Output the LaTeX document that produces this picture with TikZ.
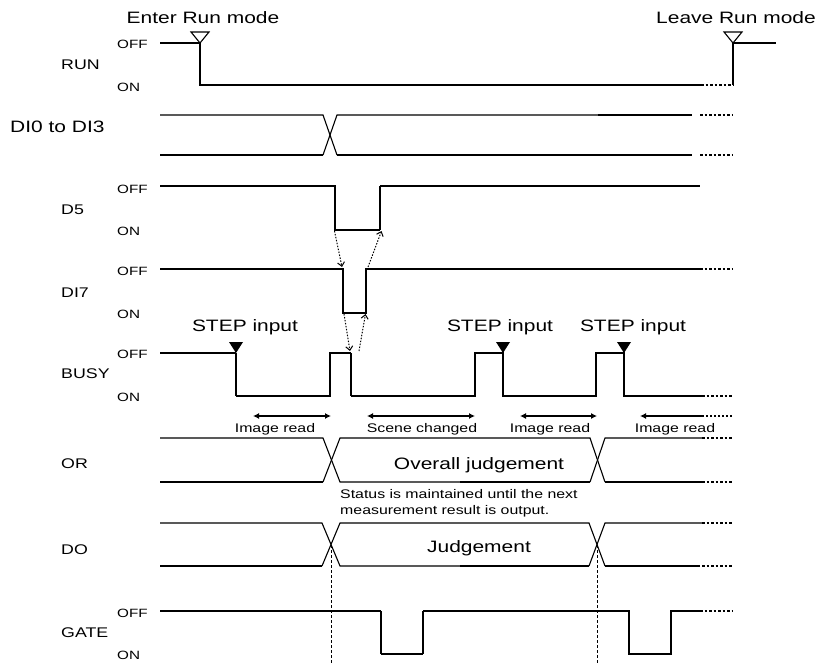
\documentclass[tikz,border=0pt]{standalone}
\usepackage{fontspec}
\setmainfont{Liberation Sans}[FakeStretch=1.27]
\usepackage{tikz}
\usetikzlibrary{arrows.meta}
\newcommand{\tdbig}{\fontsize{16.5}{19}\selectfont}
\newcommand{\tdsmall}{\fontsize{12.5}{15.5}\selectfont}
\newcommand{\tdname}{\fontsize{14}{16}\selectfont}
\newcommand{\tdlevel}{\fontsize{12}{14}\selectfont}
\newcommand{\opentri}[2]{\draw[sigthin, fill=white] (#1-9,#2-11) -- (#1+9,#2-11) -- (#1,#2) -- cycle;}
\newcommand{\filltri}[2]{\fill (#1-7,#2-11) -- (#1+7,#2-11) -- (#1,#2) -- cycle;}
\tikzset{
  sigthin/.style={line width=1.1pt},
  sigthick/.style={line width=2pt},
  sigcont/.style={line width=1.1pt, dash pattern=on 2.5pt off 2pt},
  signame/.style={anchor=west, inner sep=0pt, font=\tdname},
  siglevel/.style={anchor=west, inner sep=0pt, font=\tdlevel},
  sigtext/.style={anchor=base, inner sep=0pt, font=\tdbig},
  sigsmall/.style={anchor=base, inner sep=0pt, font=\tdsmall},
  handshake/.style={line width=1pt, dash pattern=on 1.5pt off 1.5pt, -{Straight Barb[length=4pt,width=7pt]}},
  spanarrow/.style={{Latex[length=6pt,width=6pt]}-{Latex[length=6pt,width=6pt]}},
  guide/.style={line width=0.9pt, dash pattern=on 3pt off 2pt}
}
\begin{document}
\begin{tikzpicture}[x=1pt, y=-1pt]
\useasboundingbox (0,0) rectangle (827,663);

% signal names and levels
\node[signame] (runname) at (61,65) {RUN};
\node[siglevel] (runoff) at (117,44.5) {OFF};
\node[siglevel] (runon) at (117,87.5) {ON};
\node[sigtext, anchor=base west] (diname) at (10,133) {DI0 to DI3};
\node[signame] (dfivename) at (61,209.5) {D5};
\node[siglevel] (dfiveoff) at (117,189) {OFF};
\node[siglevel] (dfiveon) at (117,231.5) {ON};
\node[signame] (disevenname) at (61,292.5) {DI7};
\node[siglevel] (disevenoff) at (117,271.5) {OFF};
\node[siglevel] (disevenon) at (117,314) {ON};
\node[signame] (busyname) at (61,374) {BUSY};
\node[siglevel] (busyoff) at (117,354) {OFF};
\node[siglevel] (busyon) at (117,397) {ON};
\node[signame] (orname) at (61,464) {OR};
\node[signame] (doname) at (61,550) {DO};
\node[signame] (gatename) at (61,633) {GATE};
\node[siglevel] (gateoff) at (117,613) {OFF};
\node[siglevel] (gateon) at (117,655) {ON};

% RUN
\node[sigtext] (enterrun) at (203,24) {Enter Run mode};
\node[sigtext] (leaverun) at (736,24) {Leave Run mode};
\draw[sigthin] (160,43) -- (200,43) -- (200,85) -- (701,85);
\draw[sigcont] (701,85) -- (733,85);
\draw[sigthin] (733,85) -- (733,43) -- (776,43);
\opentri{200}{43}
\opentri{733}{43}

% DI0 to DI3
\draw[sigthin] (160,115) -- (323,115) -- (337,155);
\draw[sigthick] (160,155) -- (323,155);
\draw[sigthin] (323,155) -- (337,115) -- (598,115);
\draw[sigthick] (598,115) -- (692,115);
\draw[sigthick] (337,155) -- (692,155);
\draw[sigcont] (700,115) -- (733,115);
\draw[sigcont] (700,155) -- (733,155);

% D5
\draw[sigthin] (160,186) -- (335,186) -- (335,230) -- (380,230);
\draw[sigthick] (380,230) -- (380,186);
\draw[sigthin] (380,186) -- (700,186);

% DI7
\draw[sigthin] (160,269) -- (343,269) -- (343,313) -- (366,313) -- (366,269) -- (700,269);
\draw[sigcont] (700,269) -- (733,269);

% BUSY
\draw[sigthin] (160,353) -- (236,353);
\draw[sigthick] (236,353) -- (236,396);
\draw[sigthin] (236,396) -- (330,396) -- (330,353) -- (351,353);
\draw[sigthick] (351,353) -- (351,396);
\draw[sigthin] (351,396) -- (475,396) -- (475,353) -- (503,353) -- (503,396) -- (596,396)
  -- (596,353) -- (624,353) -- (624,396) -- (702,396);
\draw[sigcont] (702,396) -- (733,396);
\filltri{236}{353}
\filltri{503}{353}
\filltri{624}{353}
\node[sigtext] (stepa) at (245,331) {STEP input};
\node[sigtext] (stepb) at (500,331) {STEP input};
\node[sigtext] (stepc) at (633,331) {STEP input};

% handshake D5 / DI7 / BUSY
\coordinate (dfivefall) at (334.5,231);
\coordinate (dfiverise) at (381.5,231);
\coordinate (disevenfall) at (342,267);
\coordinate (disevenrise) at (368,267);
\coordinate (disevenfallon) at (344,314);
\coordinate (disevenriseon) at (365.5,314);
\coordinate (busyfall) at (350,351);
\coordinate (busyhigh) at (359,351);
\draw[handshake] (dfivefall) -- (disevenfall);
\draw[handshake] (disevenrise) -- (dfiverise);
\draw[handshake] (disevenfallon) -- (busyfall);
\draw[handshake] (busyhigh) -- (disevenriseon);

% spans
\draw[spanarrow, sigthick] (253,416) -- (331,416);
\draw[spanarrow, sigthick] (367,416) -- (475,416);
\draw[spanarrow, sigthin] (520,416) -- (597,416);
\draw[{Latex[length=6pt,width=6pt]}-, sigthick] (640,416) -- (702,416);
\draw[sigthick, dash pattern=on 2pt off 2pt] (702,416) -- (733,416);
\node[sigsmall] (reada) at (275,432) {Image read};
\node[sigsmall] (scene) at (422,432) {Scene changed};
\node[sigsmall] (readb) at (550,432) {Image read};
\node[sigsmall] (readc) at (675,432) {Image read};

% OR
\draw[sigthin] (160,438) -- (323,438) -- (340,482) -- (460,482);
\draw[sigthick] (160,482) -- (323,482);
\draw[sigthin] (323,482) -- (340,438) -- (590,438) -- (605,482);
\draw[sigthick] (460,482) -- (590,482);
\draw[sigthin] (590,482) -- (605,438) -- (702,438);
\draw[sigthick] (605,482) -- (620,482);
\draw[sigthin] (620,482) -- (702,482);
\draw[sigcont] (702,438) -- (733,438);
\draw[sigcont] (702,482) -- (733,482);
\node[sigtext] (overall) at (479,469) {Overall judgement};
\node[anchor=north west, inner sep=0pt, font=\tdsmall, align=left] (status) at (340,489.5)
  {Status is maintained until the next\\measurement result is output.};

% DO
\draw[sigthin] (160,523) -- (322,523) -- (340,566) -- (460,566);
\draw[sigthick] (160,566) -- (322,566);
\draw[sigthin] (322,566) -- (340,523) -- (589,523) -- (605,566);
\draw[sigthick] (460,566) -- (589,566);
\draw[sigthin] (589,566) -- (605,523) -- (702,523);
\draw[sigthick] (605,566) -- (700,566);
\draw[sigcont] (702,523) -- (733,523);
\draw[sigcont] (702,566) -- (733,566);
\node[sigtext] (judge) at (479,552) {Judgement};

% GATE
\draw[sigthin] (160,611) -- (381,611);
\draw[sigthick] (381,611) -- (381,654);
\draw[sigthin] (381,654) -- (423,654);
\draw[sigthick] (423,654) -- (423,611);
\draw[sigthin] (423,611) -- (629,611) -- (629,654) -- (671,654) -- (671,611) -- (700,611);
\draw[sigcont] (700,611) -- (733,611);

% guides
\coordinate (docrossa) at (331,545);
\coordinate (docrossb) at (597,545);
\coordinate (guideenda) at (331,663);
\coordinate (guideendb) at (597,663);
\draw[guide] (docrossa) -- (guideenda);
\draw[guide] (docrossb) -- (guideendb);
\end{tikzpicture}
\end{document}
